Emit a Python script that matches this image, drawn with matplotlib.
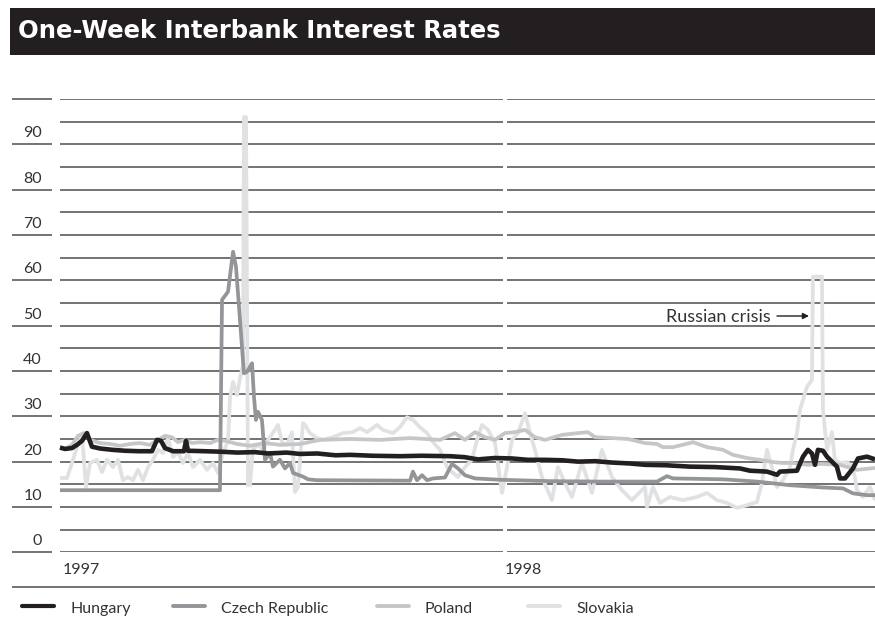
import matplotlib
matplotlib.use("Agg")
import matplotlib.pyplot as plt
from matplotlib.patches import Rectangle
import numpy as np

# ---------------- data ----------------
title = "One-Week Interbank Interest Rates"
series_names = ["Hungary", "Czech Republic", "Poland", "Slovakia"]
year_labels = ["1997", "1998"]
year_start_days = [0, 365]
y_tick_values = [0, 10, 20, 30, 40, 50, 60, 70, 80, 90]
annotation_text = "Russian crisis"

# days since 1 Jan 1997, rate in percent
hungary_day = [0, 4.1, 9.8, 13.9, 18.0, 22.0, 26.1, 32.7, 43, 53.1, 64, 75.1, 79.2, 82.5, 85.7,
               92.3, 101.2, 102.9, 104.5, 118, 130.6, 145, 159.2, 170, 185, 196.0, 210, 225,
               236.8, 255, 277.6, 295, 318.4, 330, 341.3, 355, 369.1, 382, 396.0, 410, 423.0,
               437, 450.7, 465, 477.7, 495, 514.4, 535, 555.2, 563.4, 577.3, 585.5, 587.9,
               601.8, 606.7, 610.7, 614.0, 616.5, 618.9, 623.0, 626.3, 630.3, 634.4, 636.9,
               641.0, 643.4, 647.5, 651.6, 659.0, 665.5]
hungary_rate = [23.1, 22.8, 23.0, 23.7, 24.6, 26.3, 23.3, 22.9, 22.6, 22.4, 22.3, 22.3, 24.8, 24.6, 23.0,
                22.3, 22.3, 24.6, 22.4, 22.3, 22.2, 22.0, 22.1, 21.8, 22.0, 21.7, 21.8, 21.4,
                21.5, 21.3, 21.2, 21.3, 21.2, 21.0, 20.5, 20.8, 20.7, 20.4, 20.4, 20.3, 20.0,
                20.1, 19.8, 19.6, 19.3, 19.2, 18.9, 18.8, 18.5, 18.0, 17.8, 17.1, 17.8,
                18.0, 21.1, 22.6, 21.8, 19.3, 22.6, 22.4, 21.1, 20.0, 18.9, 16.3,
                16.3, 17.1, 18.5, 20.7, 21.1, 20.5]

czech_day = [0, 130.6, 132.3, 137.2, 141.3, 143.7, 147.0, 150.2, 152.7, 156.8, 158.4, 160.0,
             161.7, 164.9, 167.4, 171.5, 173.9, 179.6, 183.7, 187.8, 190.3, 194.3, 198.4,
             202.5, 209.8, 285.8, 288.2, 291.5, 295.6, 299.7, 304.6, 314.4, 320.1, 325.0,
             330.7, 338.9, 359.3, 400.1, 440.9, 487.5, 495.6, 500.5, 541.4, 569.1, 596.1,
             623.0, 639.3, 647.5, 659.0, 665.5]
czech_rate = [13.7, 13.7, 55.7, 57.5, 66.3, 63.0, 51.2, 39.5, 39.8, 41.7, 34.3, 29.2,
              31.0, 29.2, 20.4, 21.9, 18.9, 20.4, 18.5, 19.7, 17.5, 17.1, 16.7,
              16.1, 15.9, 15.8, 17.8, 15.9, 17.0, 15.9, 16.3, 16.5, 19.5, 18.5,
              17.0, 16.3, 16.0, 15.7, 15.6, 15.6, 16.8, 16.3, 16.1, 15.6, 14.8,
              14.3, 14.1, 13.0, 12.6, 12.6]

poland_day = [0, 4.1, 9.8, 14.7, 19.6, 24.5, 32.7, 40.8, 49.0, 57.2, 65.3, 73.5, 80.0, 85.7,
              91.4, 96.3, 102.1, 107.8, 114.3, 122.5, 129.0, 134.7, 144.5, 155.1, 167.4,
              179.6, 196.0, 212.3, 236.8, 261.3, 285.8, 310.3, 322.5, 330.7, 338.8, 347.0,
              355.2, 363.3, 371.5, 379.7, 387.8, 396.0, 409.9, 423.0, 431.1, 436.8, 450.7,
              463.8, 477.7, 487.5, 492.3, 500.5, 514.4, 516.8, 528.3, 541.4, 549.5, 561.0,
              571.6, 582.1, 590.3, 598.5, 610.7, 622.2, 636.9, 650.8, 665.5]
poland_rate = [23.2, 22.8, 23.7, 25.7, 26.3, 24.8, 24.1, 23.9, 23.5, 23.9, 24.1, 23.7, 24.8, 25.7,
               25.4, 24.3, 24.8, 24.1, 24.3, 24.1, 24.8, 24.6, 23.9, 23.5, 24.1,
               23.7, 23.9, 24.8, 25.0, 24.8, 25.2, 24.8, 26.3, 24.8, 26.5, 25.4,
               24.8, 26.3, 26.5, 27.0, 25.4, 24.8, 25.9, 26.3, 26.5, 25.4, 25.2,
               25.0, 24.1, 23.9, 23.2, 23.2, 24.1, 24.3, 23.2, 22.6, 21.5, 20.8,
               20.4, 19.9, 19.7, 19.7, 19.3, 19.5, 19.3, 18.2, 18.6]

slovakia_day = [0, 5.7, 9.8, 13.9, 18.0, 21.2, 24.5, 30.2, 34.3, 38.4, 43.3, 47.4, 51.4, 55.5,
                59.6, 63.7, 67.8, 71.9, 75.9, 80.0, 84.1, 88.2, 92.3, 96.3, 100.4, 104.5,
                108.6, 114.3, 120.0, 124.9, 129.0, 133.1, 137.2, 138.8, 141.3, 144.5, 147.0,
                149.4, 150.2, 151.9, 153.5, 155.1, 157.6, 161.7, 165.8, 169.8, 175.5, 178.0,
                181.2, 185.3, 189.4, 191.9, 194.3, 198.4, 200.0, 204.1, 209.8, 214.7, 222.9,
                231.1, 239.2, 245.0, 250.7, 258.8, 263.7, 271.9, 277.6, 283.3, 288.2, 293.9,
                299.7, 304.6, 310.3, 316.0, 320.1, 325.0, 330.7, 336.4, 340.5, 344.6, 349.5,
                355.2, 360.9, 365.0, 369.1, 374.0, 379.7, 383.8, 387.8, 393.5, 401.7, 406.6,
                412.3, 418.0, 426.2, 434.4, 442.5, 450.7, 458.9, 467.0, 477.7, 479.3, 484.2,
                489.9, 498.1, 508.7, 520.1, 528.3, 536.4, 544.6, 552.8, 561.0, 569.1, 573.2,
                577.3, 581.3, 585.5, 590.3, 596.1, 598.5, 601.8, 604.2, 609.9, 614.0, 614.8,
                622.2, 623.0, 626.3, 630.3, 632.8, 636.9, 642.6, 647.5, 650.8, 655.7, 661.4,
                665.5]
slovakia_rate = [16.4, 16.4, 19.7, 23.2, 25.9, 14.4, 19.7, 20.4, 17.7, 20.4, 18.8, 20.4, 15.9, 16.6,
                 15.9, 18.2, 15.9, 18.8, 20.4, 22.6, 21.9, 25.2, 21.0, 22.1, 19.7, 21.9,
                 18.8, 20.4, 18.2, 19.7, 17.5, 21.9, 24.6, 34.0, 37.6, 34.7, 38.4,
                 41.3, 96.0, 96.0, 14.8, 14.8, 22.8, 23.7, 22.6, 24.8, 27.0, 28.1,
                 24.3, 23.7, 26.5, 13.3, 14.4, 28.5, 28.1, 26.3, 25.2, 24.8, 25.4,
                 26.3, 26.5, 27.4, 26.5, 28.1, 27.0, 26.3, 27.6, 29.8, 29.2, 27.6,
                 26.3, 24.3, 22.6, 18.8, 17.7, 16.6, 18.8, 20.4, 24.8, 28.1, 27.0,
                 24.1, 13.1, 18.8, 24.8, 26.3, 30.7, 26.3, 22.6, 16.6, 11.5, 18.8,
                 15.3, 12.2, 19.7, 13.1, 22.6, 16.6, 13.7, 11.5, 14.4, 10.0, 14.4,
                 10.9, 12.2, 11.5, 12.2, 13.1, 11.5, 10.9, 9.8, 10.4, 11.1, 15.3,
                 22.6, 18.8, 14.4, 15.9, 18.8, 22.6, 26.3, 31.4, 36.5, 38.0, 60.8,
                 60.8, 31.4, 22.6, 26.5, 20.4, 19.7, 19.9, 18.8, 13.7, 12.2, 14.4,
                 11.5]

# ---------------- style ----------------
W, H = 875, 619
INK = "#231f20"
GRID = "#4d4d4d"
colors = ["#231f20", "#939598", "#c5c6c8", "#e0e1e2"]
widths = [3.3, 2.7, 2.7, 2.7]
FONT = "Lato"
TXT = dict(family=FONT, fontweight="normal", color="#333333")

fig = plt.figure(figsize=(W / 100, H / 100), dpi=100)
fig.patch.set_facecolor("white")

# pixel-space layout helpers
PX_LEFT, PX_RIGHT = 60, 875
PX_ZERO, PX_HUNDRED = 552.3, 99.0
PX_PER_DAY = 447 / 365.0
x_max_day = (PX_RIGHT - PX_LEFT) / PX_PER_DAY

def py(v):
    return PX_ZERO - v * (PX_ZERO - PX_HUNDRED) / 100.0

# decoration axes in pixel coordinates
deco = fig.add_axes([0, 0, 1, 1], zorder=0)
deco.set_xlim(0, W)
deco.set_ylim(H, 0)
deco.axis("off")

# title bar
deco.add_patch(Rectangle((10, 8), W - 10, 47, facecolor=INK, edgecolor="none"))
deco.text(18, 31.5, title, color="white", fontsize=17.5, fontweight="bold",
          family="DejaVu Sans", va="center", ha="left")

# left short gridlines at tens, and y labels
for v in range(0, 101, 10):
    deco.plot([12, 52], [py(v), py(v)], color=GRID, lw=1.1, solid_capstyle="butt")
for v in y_tick_values:
    deco.text(42, py(v) - 7, str(v), ha="right", va="baseline", fontsize=11.5, **TXT)

# separator line above legend
deco.plot([12, W], [586.7, 586.7], color=GRID, lw=1.1, solid_capstyle="butt")

# main data axes
ax = fig.add_axes([PX_LEFT / W, 1 - PX_ZERO / H, (PX_RIGHT - PX_LEFT) / W,
                   (PX_ZERO - PX_HUNDRED) / H], zorder=1)
ax.patch.set_alpha(0)
ax.set_xlim(0, x_max_day)
ax.set_ylim(0, 100)
ax.axis("off")

gap_day = (503 - PX_LEFT) / PX_PER_DAY
grid_vals = np.arange(0, 101, 5)
ax.hlines(grid_vals, 0, gap_day, color=GRID, lw=1.1, zorder=1)
ax.hlines(grid_vals, year_start_days[1], x_max_day, color=GRID, lw=1.1, zorder=1)

# year labels
for lab, d in zip(year_labels, year_start_days):
    deco.text(PX_LEFT + d * PX_PER_DAY + (3 if d == 0 else -2), 574, lab, ha="left",
              va="baseline", fontsize=11.5, **TXT)

# series (Slovakia bottom, Hungary top)
days = [hungary_day, czech_day, poland_day, slovakia_day]
rates = [hungary_rate, czech_rate, poland_rate, slovakia_rate]
for i in [3, 2, 1, 0]:
    ax.plot(days[i], rates[i], color=colors[i], lw=widths[i], zorder=5 - i,
            solid_joinstyle="round", solid_capstyle="butt", clip_on=False)

# annotation
deco.text(771, 321.5, annotation_text, ha="right", va="baseline", fontsize=13, **TXT)
deco.annotate("", xy=(809, 316), xytext=(777, 316),
              arrowprops=dict(arrowstyle="-|>", color=INK, lw=1.0, mutation_scale=9,
                              shrinkA=0, shrinkB=0))

# legend
legend_key_x = [22, 173, 377, 528]
for i, name in enumerate(series_names):
    x0 = legend_key_x[i]
    deco.plot([x0, x0 + 32], [606, 606], color=colors[i], lw=3.0 if i == 0 else 2.8,
              solid_capstyle="round")
    deco.text(x0 + 48, 613, name, ha="left", va="baseline", fontsize=11.5, **TXT)

fig.savefig("out.png", dpi=100)
